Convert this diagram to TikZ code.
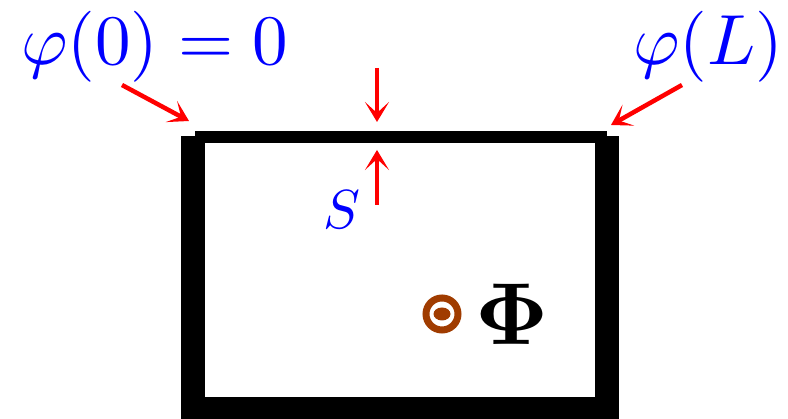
\documentclass[tikz,border=0pt]{standalone}
\definecolor{LabelBlue}{HTML}{0000FF}
\definecolor{ArrowRed}{HTML}{FF0000}
\definecolor{FluxBrown}{HTML}{A03C00}
\usepackage{amsmath, amssymb, bm}
\usepackage{tikz}
\usetikzlibrary{arrows.meta, positioning}
\tikzset{
  wall/.style={fill=black, draw=none},
  redarrow/.style={ArrowRed, line width=4.5pt, -{Stealth[length=20pt, width=24pt, inset=11pt]}},
  biglabel/.style={LabelBlue, inner sep=0pt},
}

\begin{document}
\begin{tikzpicture}[x=1pt, y=1pt]
  \useasboundingbox (0,0) rectangle (788,419);
  % frame: thin top, thick sides and bottom
  \fill[wall] (195,276) rectangle (607,288);
  \fill[wall] (181,0) rectangle (205,283);
  \fill[wall] (595,0) rectangle (619,283);
  \fill[wall] (181,0) rectangle (619,22);
  % end labels
  \node[biglabel] (phizero) at (155,372) {\scalebox{7.1}{$\varphi(0) = 0$}};
  \node[biglabel] (phiL) at (708,372) {\scalebox{7.1}{$\varphi(L)$}};
  \node[biglabel] (surf) at (342,209) {\scalebox{5.5}{$S$}};
  % arrow ends
  \coordinate (leftTail) at (122,334);
  \coordinate (leftTip) at (189,298);
  \coordinate (rightTail) at (682,334);
  \coordinate (rightTip) at (611,294);
  \coordinate (topTail) at (377,351);
  \coordinate (topTip) at (377,297);
  \coordinate (botTail) at (377,214);
  \coordinate (botTip) at (377,269);
  \draw[redarrow] (leftTail) -- (leftTip);
  \draw[redarrow] (rightTail) -- (rightTip);
  \draw[redarrow] (topTail) -- (topTip);
  \draw[redarrow] (botTail) -- (botTip);
  % flux out of the page
  \node[circle, draw=FluxBrown, line width=7pt, minimum size=32pt, inner sep=0pt] (flux) at (442,105) {};
  \fill[FluxBrown] (flux.center) ellipse (8.5pt and 6.5pt);
  \node[inner sep=0pt] (Phi) at (512,105) {\scalebox{8.8}{$\boldsymbol{\Phi}$}};
\end{tikzpicture}
\end{document}
